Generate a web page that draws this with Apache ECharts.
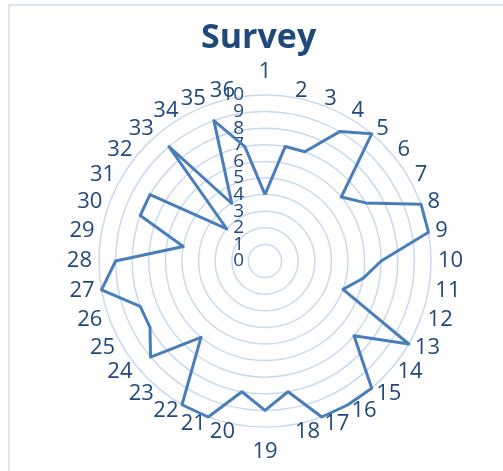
<!DOCTYPE html>
<html>
<head>
<meta charset="utf-8">
<script src="https://cdn.jsdelivr.net/npm/echarts@6/dist/echarts.min.js"></script>
<style>
  html, body { margin: 0; padding: 0; background: #fff; overflow: hidden; }
  #frame { position: absolute; left: 8px; top: 4px; width: 600px; height: 600px;
           border-left: 2px solid #dae4f3; border-top: 2px solid #dae4f3; }
  #chart { position: absolute; left: 0; top: 0; width: 503px; height: 471px; }
</style>
</head>
<body>
<div id="frame"></div>
<div id="chart"></div>
<script>
// 数据
const categories = ['1','2','3','4','5','6','7','8','9','10','11','12','13','14','15','16','17','18',
  '19','20','21','22','23','24','25','26','27','28','29','30','31','32','33','34','35','36']
const values = [4, 7, 7, 9, 10, 6, 7, 10, 10, 7, 6, 5, 10, 7, 10, 10, 10, 8,
  9, 8, 10, 10, 6, 9, 8, 8, 10, 9, 5, 8, 8, 3, 9, 4, 9, 7]
const maxValue = 10

const textColor = '#1f497d'
const center = [265, 261]
const radius = 166

// echarts的雷达图是逆时针排列的，这里倒序让它顺时针
const order = categories.map((c, i) => (i === 0 ? 0 : categories.length - i))

// 刻度文字挤在一起时echarts会隐藏一部分，所以分成奇偶两个雷达坐标系来画
const buildIndicator = (odd) => order.map((i, k) => {
  const item = { name: categories[i], min: 0, max: maxValue }
  // 正上方和正下方的名字离得远一点
  if (i === 0) item.nameGap = 12
  if (i === 18) item.nameGap = 14
  if (k === 0) {
    item.axisLabel = {
      show: true,
      color: textColor,
      fontSize: 19,
      fontFamily: 'Open Sans',
      margin: 21,
      showMinLabel: true,
      showMaxLabel: true,
      formatter: (v) => ((v % 2 === 1) === odd ? String(v) : ''),
    }
  }
  return item
})

const option = {
  title: {
    text: 'Survey',
    left: 196,
    top: 16,
    textStyle: {
      color: textColor,
      fontSize: 34,
      fontWeight: 'bold',
      fontFamily: 'Open Sans',
    },
  },
  radar: [
    {
      center: center,
      radius: radius,
      shape: 'circle',
      splitNumber: 10,
      nameGap: 7,
      axisName: {
        color: textColor,
        fontSize: 22,
        fontFamily: 'Open Sans',
      },
      axisLine: { show: false },
      axisTick: { show: false },
      axisLabel: { show: false },
      splitLine: {
        lineStyle: { color: '#c9daf0', width: 1.5 },
      },
      splitArea: { show: false },
      indicator: buildIndicator(false),
    },
    {
      center: center,
      radius: radius,
      shape: 'circle',
      splitNumber: 10,
      axisName: { show: false },
      axisLine: { show: false },
      axisTick: { show: false },
      axisLabel: { show: false },
      splitLine: { show: false },
      splitArea: { show: false },
      indicator: buildIndicator(true),
    },
  ],
  series: [
    {
      type: 'radar',
      radarIndex: 0,
      symbol: 'none',
      silent: true,
      lineStyle: { color: '#4a7ebb', width: 3 },
      data: [{ value: order.map(i => values[i]) }],
    },
  ],
}

const chart = echarts.init(document.getElementById('chart'))
chart.setOption(option)
</script>
</body>
</html>
